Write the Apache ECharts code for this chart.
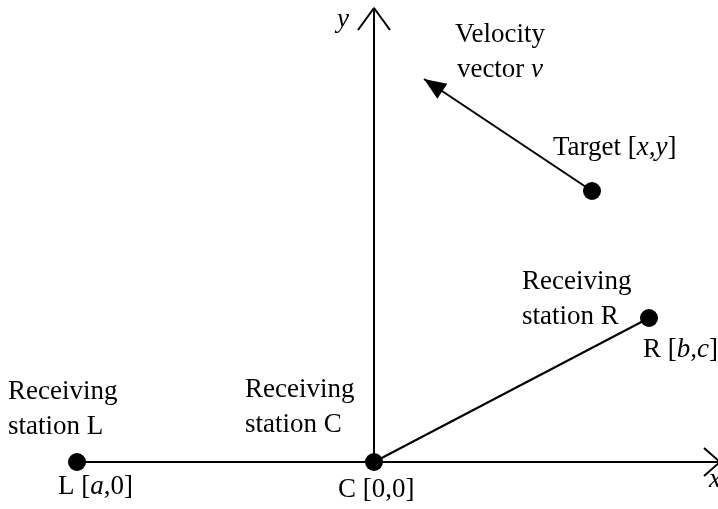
<!DOCTYPE html>
<html>
<head>
<meta charset="utf-8">
<script src="https://cdn.jsdelivr.net/npm/echarts@6/dist/echarts.min.js"></script>
<style>
  html, body { margin: 0; padding: 0; background: #fff; }
  #main { width: 718px; height: 509px; }
</style>
</head>
<body>
<div id="main"></div>
<script>
// diagram units, C station at the origin
var stationNames = ['L', 'C', 'R'];
var stationX = [-29.7, 0, 27.5];
var stationY = [0, 0, 14.4];
var target = [21.8, 27.1];
var velocityTip = [5.0, 38.3];
var axisXEnd = 34.6;
var axisYEnd = 45.4;

// text labels
var labelX = [-3.1, 12.6, 17.9, 14.8, 26.9, -36.6, -12.9, -31.6, -3.6, 33.5];
var labelY = [44.2, 40.95, 31.4, 16.25, 11.2, 5.25, 5.45, -2.5, -2.8, -1.8];
var labelText = [
    '{i|y}',
    'Velocity\nvector {i|v}',
    'Target [{i|x,y}]',
    'Receiving\nstation R',
    'R [{i|b,c}]',
    'Receiving\nstation L',
    'Receiving\nstation C',
    'L [{i|a},0]',
    'C [0,0]',
    '{i|x}'
];
var labelAlign = ['center', 'center', 'left', 'left', 'left', 'left', 'left', 'left', 'left', 'left'];

var FONT = 'Liberation Serif';
var chartDom = document.getElementById('main');
var myChart = echarts.init(chartDom, null, { renderer: 'canvas' });
var option;

var lineStyle = { color: '#000', width: 2 };
var iL = stationNames.indexOf('L');
var iC = stationNames.indexOf('C');
var iR = stationNames.indexOf('R');

function path(points) {
    return {
        type: 'line',
        data: points,
        showSymbol: false,
        symbol: 'none',
        lineStyle: lineStyle,
        silent: true,
        z: 2
    };
}

var labelData = labelText.map(function (t, k) {
    return {
        value: [labelX[k], labelY[k]],
        label: { formatter: t, align: labelAlign[k] }
    };
});

option = {
    animation: false,
    backgroundColor: '#fff',
    grid: { left: 0, right: 0, top: 0, bottom: 0 },
    xAxis: { type: 'value', min: -37.4, max: 34.4, show: false },
    yAxis: { type: 'value', min: -4.7, max: 46.2, show: false },
    series: [
        // x axis from station L to the right edge
        path([[stationX[iL], 0], [axisXEnd, 0]]),
        path([[axisXEnd - 1.6, 1.4], [axisXEnd, 0], [axisXEnd - 1.6, -1.4]]),
        // y axis
        path([[0, 0], [0, axisYEnd]]),
        path([[-1.6, axisYEnd - 2.2], [0, axisYEnd], [1.6, axisYEnd - 2.2]]),
        // C to R
        path([[stationX[iC], stationY[iC]], [stationX[iR], stationY[iR]]]),
        {
            // velocity vector
            type: 'line',
            data: [],
            markLine: {
                silent: true,
                animation: false,
                symbol: ['none', 'triangle'],
                symbolSize: [18, 22],
                symbolOffset: [[0, 0], [0, 11]],
                label: { show: false },
                lineStyle: { color: '#000', width: 2, type: 'solid' },
                data: [[{ coord: target }, { coord: velocityTip }]]
            }
        },
        {
            type: 'scatter',
            symbolSize: 18,
            itemStyle: { color: '#000', opacity: 1 },
            data: stationX.map(function (x, k) { return [x, stationY[k]]; }).concat([target]),
            z: 5
        },
        {
            type: 'scatter',
            symbolSize: 0,
            silent: true,
            itemStyle: { opacity: 1 },
            label: {
                show: true,
                position: 'inside',
                verticalAlign: 'middle',
                color: '#000',
                opacity: 1,
                fontFamily: FONT,
                fontSize: 27,
                lineHeight: 35,
                rich: {
                    i: { fontStyle: 'italic', fontFamily: FONT, fontSize: 27, color: '#000', lineHeight: 35 }
                }
            },
            data: labelData,
            z: 6
        }
    ]
};

option && myChart.setOption(option);
</script>
</body>
</html>
